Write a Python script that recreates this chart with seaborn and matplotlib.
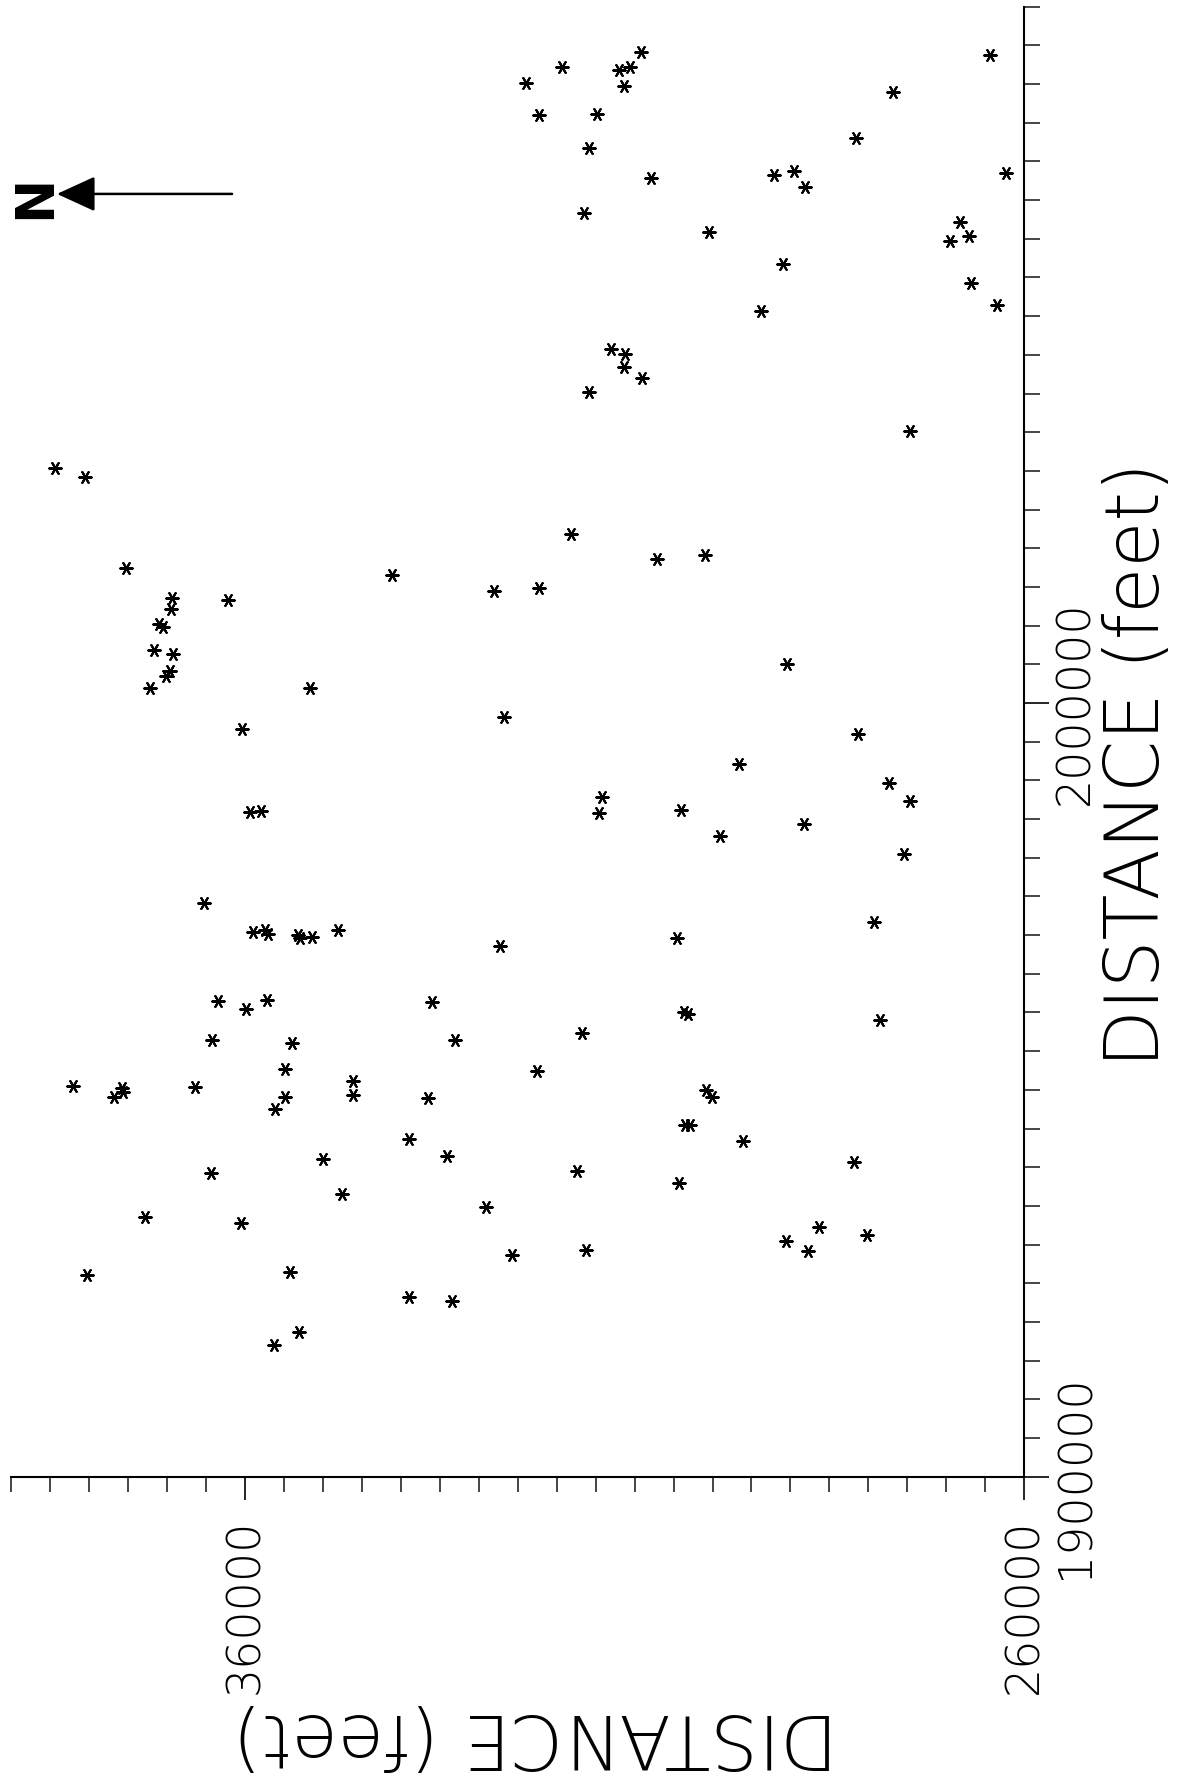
import matplotlib
matplotlib.use("Agg")
import matplotlib.pyplot as plt
import seaborn as sns
import pandas as pd
from matplotlib.ticker import FixedLocator, MultipleLocator

# well locations, state plane coordinates (feet)
northing = [384300, 380500, 309200, 319300, 312000, 310600, 323900, 311300, 322300, 314800,
            315800, 307900, 292100, 316500, 300500, 293800, 313000, 311200, 311400, 309100,
            315900, 264400, 276800, 281600, 289500, 288100, 262400, 268300, 269500, 267100,
            291000, 266800, 263500, 274600, 375200, 341100, 369400, 369500, 362100, 371000,
            370500, 371700, 369200, 369600, 370100, 372200, 351700, 360400, 359400, 357900,
            365300, 359000, 357400, 357000, 353200, 352900, 351400, 348000, 363500, 359800,
            357200, 318200, 307100, 301000, 328000, 322200, 326700, 296600, 314200, 314600,
            304100, 299100, 304600, 327300, 336000, 303700, 303200, 290500, 281300, 277300,
            274600, 288300, 275400, 279300, 364200, 353900, 354900, 382000, 375700, 375600,
            376800, 366400, 354900, 356100, 346100, 346100, 350000, 364300, 347500, 372800,
            360500, 380200, 354200, 353000, 356200, 333000, 316800, 322500, 336500, 300800,
            300100, 303500, 302900, 296100, 338900, 334000, 317400, 304300, 329100, 325700,
            316200, 339000, 333400, 278500, 281800, 286300, 290600, 287700, 280200]

easting = [2030400, 2029200, 2084100, 2082200, 2081800, 2082200, 2080200, 2079700, 2076000, 2076100,
           2071700, 2067800, 2068200, 2063300, 2060900, 2050700, 2045800, 2045100, 2043400, 2042000,
           2040200, 2083800, 2079000, 2073000, 2068800, 2066700, 2068500, 2062200, 2059700, 2060300,
           2056800, 2054300, 2051500, 2035200, 2017400, 2016600, 2013600, 2012200, 2013300, 2010200,
           2009800, 2006900, 2006300, 2004200, 2003500, 2001900, 2002000, 1996600, 1985900, 1986100,
           1974200, 1970400, 1970600, 1970100, 1970000, 1969600, 1969800, 1970600, 1961500, 1960400,
           1961600, 2021800, 2018600, 2019100, 2014500, 2014900, 1998200, 1992100, 1987800, 1985800,
           1986200, 1982800, 1969600, 1968600, 1961300, 1960000, 1959800, 2005100, 1996000, 1989700,
           1987300, 1984300, 1980500, 1971700, 1956400, 1956000, 1952700, 1950500, 1950300, 1949700,
           1949100, 1950400, 1949100, 1947500, 1951200, 1949300, 1941100, 1939300, 1936500, 1933600,
           1932800, 1926100, 1926500, 1918700, 1917000, 1956400, 1957400, 1952400, 1949000, 1950000,
           1949100, 1945500, 1945400, 1943400, 1943700, 1941400, 1939500, 1938000, 1934800, 1928600,
           1929300, 1923200, 1922700, 1959000, 1940700, 1932300, 1930400, 1929200, 1931300]

north_ticks = [260000, 360000]
east_ticks = [1900000, 2000000]
tick_step = 5000

df = pd.DataFrame({"northing": northing, "easting": easting})

sns.set_theme(style="ticks")
plt.rcParams["font.family"] = ["DejaVu Sans"]
plt.rcParams["font.weight"] = "light"

# the map is printed sideways: north points to the left of the page
fig = plt.figure(figsize=(11.87, 17.89), dpi=100)
ax = fig.add_axes([0.00927, 0.17457, 0.85366, 0.82168])

sns.scatterplot(data=df, x="northing", y="easting", marker=(6, 2, 90), s=80,
                color="black", linewidth=1.5, ax=ax, legend=False)

ax.set_xlim(390000, 260000)
ax.set_ylim(1900000, 2090000)

for side in ["left", "top"]:
    ax.spines[side].set_visible(False)
for side in ["right", "bottom"]:
    ax.spines[side].set_linewidth(1.5)
    ax.spines[side].set_color("black")

ax.yaxis.tick_right()
ax.xaxis.set_major_locator(FixedLocator(north_ticks))
ax.xaxis.set_minor_locator(MultipleLocator(tick_step))
ax.yaxis.set_major_locator(FixedLocator(east_ticks))
ax.yaxis.set_minor_locator(MultipleLocator(tick_step))
ax.set_xticklabels([str(v) for v in north_ticks])
ax.set_yticklabels([str(v) for v in east_ticks])

ax.tick_params(axis="x", which="major", direction="out", length=16.5, width=1.2,
               pad=14, labelsize=33, labelrotation=90, colors="black")
ax.tick_params(axis="x", which="minor", direction="out", length=10.8, width=1.2)
ax.tick_params(axis="y", which="major", direction="out", length=18, width=1.2,
               pad=3, labelsize=33, labelrotation=90, colors="black",
               right=True, left=False, labelright=True, labelleft=False)
ax.tick_params(axis="y", which="minor", direction="out", length=11.5, width=1.2,
               right=True, left=False)
for lab in ax.get_yticklabels():
    lab.set_va("center")

ax.set_xlabel("")
ax.set_ylabel("")

fig.text(0.9587, 0.5729, "DISTANCE (feet)", rotation=90, ha="center", va="center",
         fontsize=54, color="black")
fig.text(0.4507, 0.0305, "DISTANCE (feet)", rotation=180, ha="center", va="center",
         fontsize=54, color="black")

# north arrow
ax.annotate("", xy=(0.0480, 0.8916), xytext=(0.1955, 0.8916),
            xycoords="figure fraction", textcoords="figure fraction",
            arrowprops=dict(arrowstyle="-|>,head_length=24,head_width=11",
                            mutation_scale=1, lw=1.8, color="black",
                            shrinkA=0, shrinkB=0))
fig.text(0.0295, 0.8899, "N", rotation=90, ha="center", va="center",
         fontsize=38, fontweight="semibold", color="black")

fig.savefig("out.png", dpi=100)
